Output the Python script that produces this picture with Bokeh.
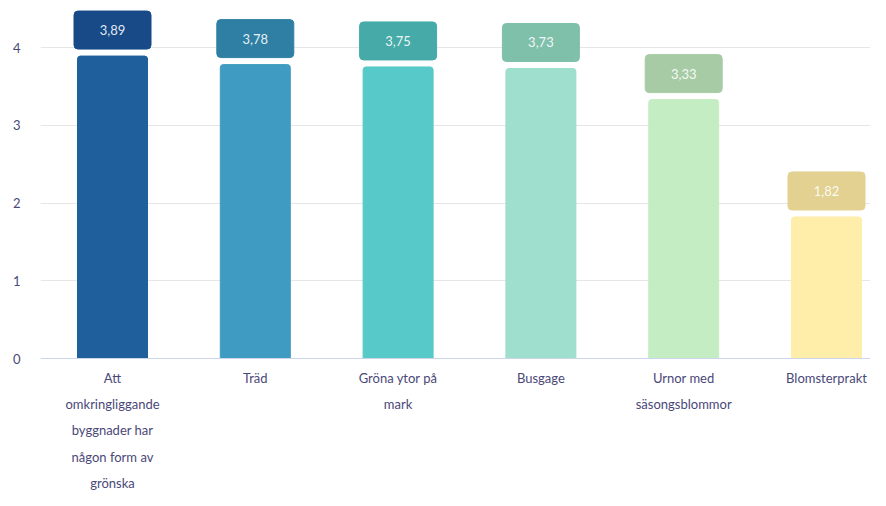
from bokeh.plotting import figure
from bokeh.models import Range1d, FixedTicker, Span, ColumnDataSource
from bokeh.core.properties import value
from bokeh.embed import file_html
from bokeh.resources import INLINE

categories = [
    "Att\nomkringliggande\nbyggnader har\nnågon form av\ngrönska",
    "Träd",
    "Gröna ytor på\nmark",
    "Busgage",
    "Urnor med\nsäsongsblommor",
    "Blomsterprakt",
]
values = [3.89, 3.78, 3.75, 3.73, 3.33, 1.82]
value_labels = ["3,89", "3,78", "3,75", "3,73", "3,33", "1,82"]
bar_colors = ["#1f5f9c", "#3f9bc1", "#58c9c9", "#9edfce", "#c5edc3", "#feeeaa"]
box_colors = ["#174a87", "#2f7fa4", "#45aaa8", "#7fc0ab", "#a7cca5", "#e2d190"]
y_ticks = [0, 1, 2, 3, 4]

FONT = "Lato"
TEXT_COLOR = "#4a4878"

W, H = 870, 490
px_per_unit = 77.75
y1 = 4 + 47 / px_per_unit
y0 = y1 - H / px_per_unit
frame_left = 40
x_px = 142.8
x_start = -72 / x_px
x_end = x_start + (W - frame_left) / x_px

p = figure(width=W, height=H, output_backend="svg", toolbar_location=None,
           x_range=Range1d(x_start, x_end), y_range=Range1d(y0, y1),
           min_border_left=frame_left, min_border_right=0,
           min_border_top=0, min_border_bottom=0)
p.outline_line_color = None
p.background_fill_color = "white"
p.border_fill_color = "white"

p.xaxis.visible = False
p.xgrid.visible = False

p.yaxis.ticker = FixedTicker(ticks=y_ticks)
p.yaxis.axis_line_color = None
p.yaxis.major_tick_line_color = None
p.yaxis.minor_tick_line_color = None
p.yaxis.major_tick_out = 0
p.yaxis.major_label_standoff = 20
p.yaxis.major_label_text_font = FONT
p.yaxis.major_label_text_font_size = "13px"
p.yaxis.major_label_text_color = TEXT_COLOR
p.ygrid.ticker = FixedTicker(ticks=y_ticks)
p.ygrid.grid_line_color = "#e6e6e6"
p.ygrid.grid_line_width = 1

xs = list(range(len(categories)))
gap = 7 / px_per_unit
box_h = 38 / px_per_unit
src = ColumnDataSource(dict(
    x=xs, top=values, color=bar_colors, box_color=box_colors,
    box_bottom=[v + gap for v in values],
    box_top=[v + gap + box_h for v in values],
    box_mid=[v + gap + box_h / 2 for v in values],
    vlabel=value_labels, cat=categories,
    cat_y=[-11 / px_per_unit] * len(categories),
))

p.vbar(x="x", top="top", bottom=0, width=70 / x_px, source=src,
       fill_color="color", line_color="color", line_width=1,
       border_radius=[3, 3, 0, 0])
p.vbar(x="x", top="box_top", bottom="box_bottom", width=77 / x_px, source=src,
       fill_color="box_color", line_color="box_color", border_radius=4)
p.text(x="x", y="box_mid", text="vlabel", source=src,
       text_align="center", text_baseline="middle",
       text_font=value(FONT), text_font_size="13px", text_color="#ffffff",
       text_alpha=0.9)

p.add_layout(Span(location=0, dimension="width", line_color="#ccd6eb", line_width=1))

p.text(x="x", y="cat_y", text="cat", source=src,
       text_align="center", text_baseline="top",
       text_font=value(FONT), text_font_size="13px", text_color=TEXT_COLOR,
       text_line_height=1.65)

open("out.html", "w").write(file_html(p, INLINE))
